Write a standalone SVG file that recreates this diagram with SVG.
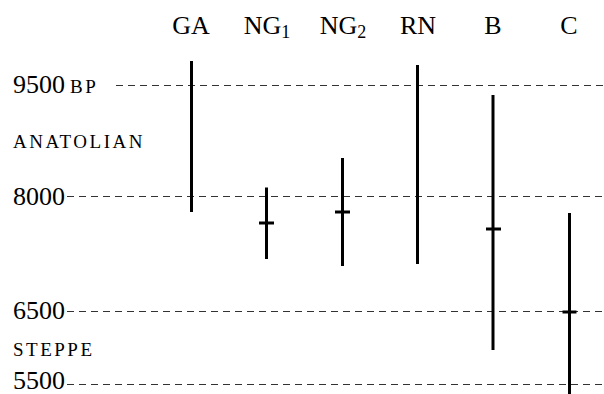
<svg xmlns="http://www.w3.org/2000/svg" width="604" height="394" viewBox="0 0 604 394">
<style>
.t{font-family:'Liberation Serif','DejaVu Serif',serif;font-size:26px;fill:#000}
.sc{font-family:'Liberation Serif','DejaVu Serif',serif;font-size:19px;letter-spacing:2.5px;fill:#000}
.sub{font-size:18px}
.grid{stroke:#333;stroke-width:1;stroke-dasharray:7 5;fill:none}
.bar{stroke:#000;stroke-width:3;fill:none}
</style>
<rect width="604" height="394" fill="#fff"/>
<g id="headers">
<text class="t" x="191" y="34" text-anchor="middle">GA</text>
<text class="t" x="267" y="34" text-anchor="middle">NG<tspan class="sub" dy="4">1</tspan></text>
<text class="t" x="343" y="34" text-anchor="middle">NG<tspan class="sub" dy="4">2</tspan></text>
<text class="t" x="418" y="34" text-anchor="middle">RN</text>
<text class="t" x="493" y="34" text-anchor="middle">B</text>
<text class="t" x="569" y="34" text-anchor="middle">C</text>
</g>
<g id="axis-labels">
<text class="t" x="13" y="93">9500<tspan class="sc" dx="5">BP</tspan></text>
<text class="sc" x="13" y="148">ANATOLIAN</text>
<text class="t" x="13" y="205">8000</text>
<text class="t" x="13" y="319">6500</text>
<text class="sc" x="13" y="356">STEPPE</text>
<text class="t" x="13" y="389">5500</text>
</g>
<g id="connectors">
<line class="grid" x1="116" y1="85.5" x2="604" y2="85.5"/>
<line class="grid" x1="67" y1="196.5" x2="604" y2="196.5"/>
<line class="grid" x1="67" y1="311.5" x2="604" y2="311.5"/>
<line class="grid" x1="67" y1="384.5" x2="604" y2="384.5"/>
</g>
<g id="GA"><line class="bar" x1="191.5" y1="61" x2="191.5" y2="212"/></g>
<g id="NG1"><line class="bar" x1="266.5" y1="187.5" x2="266.5" y2="259"/><line class="bar" x1="259" y1="223" x2="274" y2="223"/></g>
<g id="NG2"><line class="bar" x1="342.5" y1="158" x2="342.5" y2="266"/><line class="bar" x1="335" y1="212" x2="350" y2="212"/></g>
<g id="RN"><line class="bar" x1="417.5" y1="65" x2="417.5" y2="264"/></g>
<g id="B"><line class="bar" x1="493" y1="95" x2="493" y2="350"/><line class="bar" x1="486" y1="229" x2="501" y2="229"/></g>
<g id="C"><line class="bar" x1="569.5" y1="213" x2="569.5" y2="394"/><line class="bar" x1="562.5" y1="312" x2="576.5" y2="312"/></g>
</svg>
